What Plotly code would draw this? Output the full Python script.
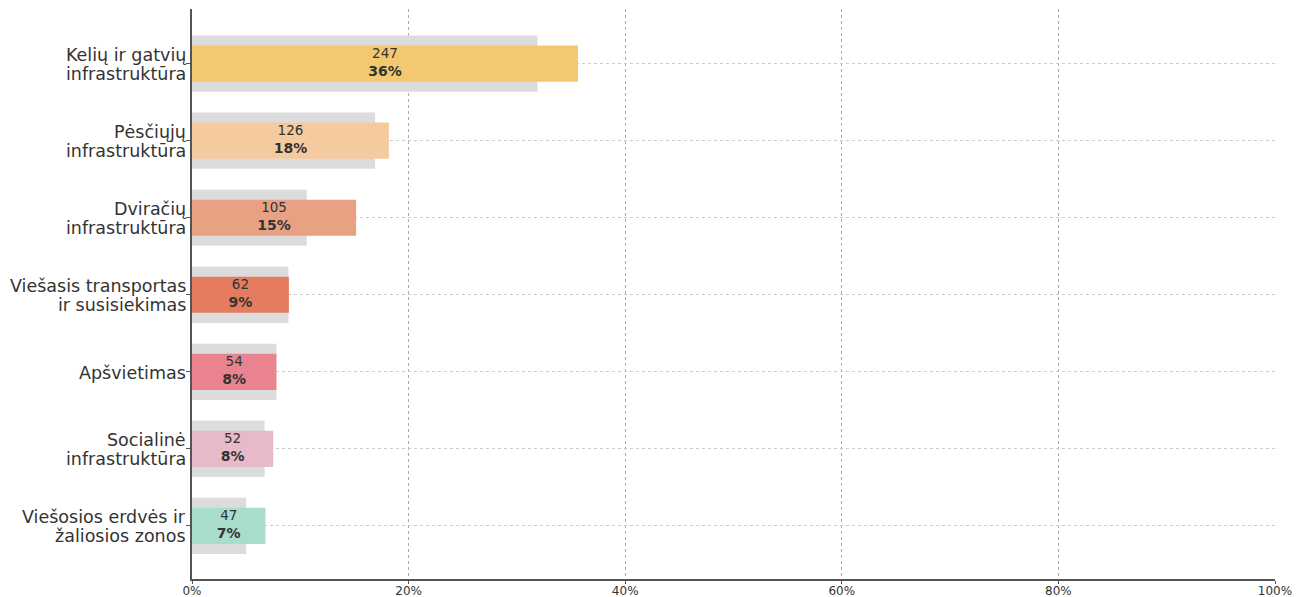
import plotly.graph_objects as go

categories = [
    "Kelių ir gatvių<br>infrastruktūra",
    "Pėsčiųjų<br>infrastruktūra",
    "Dviračių<br>infrastruktūra",
    "Viešasis transportas<br>ir susisiekimas",
    "Apšvietimas",
    "Socialinė<br>infrastruktūra",
    "Viešosios erdvės ir<br>žaliosios zonos",
]
counts = [247, 126, 105, 62, 54, 52, 47]
background_pct = [31.9, 16.9, 10.6, 8.9, 7.8, 6.7, 5.0]
colors = ["#F2C96E", "#F5CA9F", "#E8A283", "#E57C5F", "#E8838F", "#E6BAC9", "#A7DDCA"]
x_ticks = [0, 20, 40, 60, 80, 100]
x_tick_labels = ["0%", "20%", "40%", "60%", "80%", "100%"]

total = sum(counts)
share_pct = [c / total * 100 for c in counts]
ypos = list(range(len(categories)))

fig = go.Figure()
fig.add_trace(go.Bar(
    y=ypos, x=background_pct, orientation="h", width=0.73,
    marker=dict(color="#DCDCDC", line=dict(width=0)), hoverinfo="skip", showlegend=False,
))
fig.add_trace(go.Bar(
    y=ypos, x=share_pct, orientation="h", width=0.47,
    marker=dict(color=colors, line=dict(width=0)), showlegend=False,
))
labels = [f"<span style='font-size:13.5px'>{c}</span><br><b>{round(p)}%</b>" for c, p in zip(counts, share_pct)]
fig.add_trace(go.Scatter(
    y=ypos, x=[p / 2 for p in share_pct], mode="text", text=labels,
    textposition="middle center",
    textfont=dict(family="DejaVu Sans", size=14, color="#333333"),
    showlegend=False, hoverinfo="skip",
))

# category labels, one annotation per line for tighter line spacing
annotations = []
line_gap = 19
for i, cat in enumerate(categories):
    lines = cat.split("<br>")
    n = len(lines)
    for j, line in enumerate(lines):
        offset = ((n - 1) / 2 - j) * line_gap - 1
        annotations.append(dict(
            xref="paper", yref="y", x=0, y=i, text=line, showarrow=False,
            xanchor="right", yanchor="middle", xshift=-4, yshift=offset,
            font=dict(family="DejaVu Sans", size=17.5, color="#333333"),
        ))

fig.update_layout(
    width=1296, height=597,
    margin=dict(l=192, r=21, t=9, b=18),
    paper_bgcolor="white", plot_bgcolor="white",
    barmode="overlay",
    font=dict(family="DejaVu Sans", color="#333333"),
    annotations=annotations,
)
fig.update_xaxes(
    range=[0, 100], tickvals=x_ticks, ticktext=x_tick_labels,
    tickfont=dict(family="DejaVu Sans", size=12, color="#333333"),
    showgrid=True, gridcolor="#AAAAAA", griddash="dot", gridwidth=1,
    showline=True, linecolor="#555555", linewidth=1.5,
    ticks="outside", ticklen=3, tickcolor="#555555", ticklabelstandoff=-3,
    zeroline=False, layer="above traces", automargin=False,
)
fig.update_yaxes(
    range=[6.69, -0.71], tickvals=ypos, showticklabels=False,
    showgrid=True, gridcolor="#CCCCCC", griddash="dot", gridwidth=1,
    showline=True, linecolor="#555555", linewidth=1.5,
    ticks="outside", ticklen=4, tickcolor="#555555",
    zeroline=False, layer="above traces", automargin=False,
)

fig.write_html("out.html", config={"displayModeBar": False},
               post_script="document.body.style.margin='0';")
